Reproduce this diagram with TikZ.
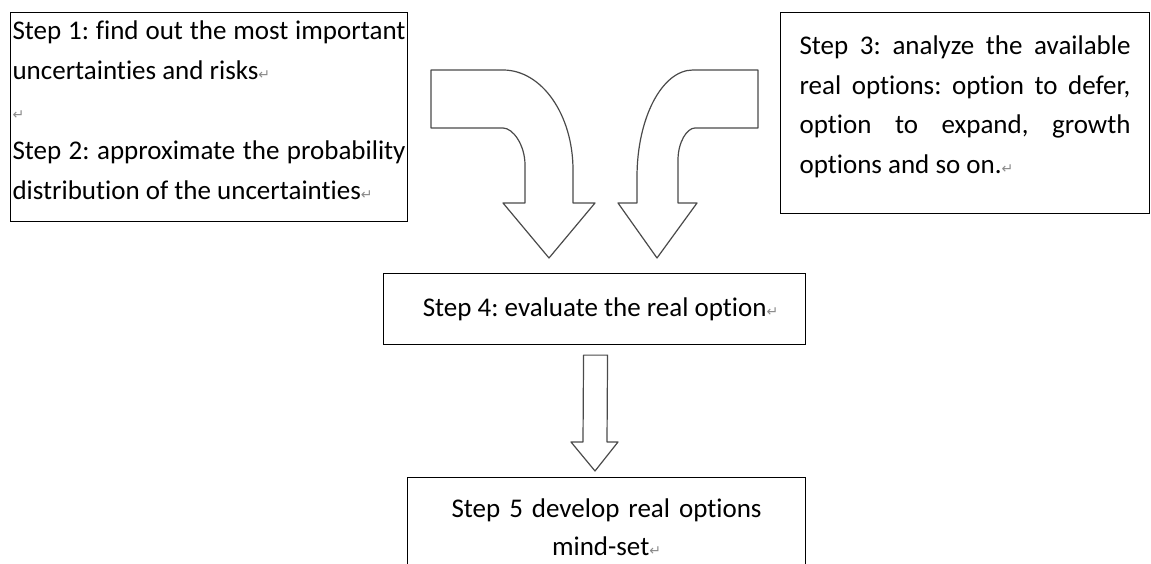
\documentclass[tikz,border=0pt]{standalone}
\usepackage{fontspec}
\setmainfont{Carlito}[Ligatures=NoCommon]
\newfontfamily\markfont{DejaVu Sans}
\usetikzlibrary{calc}
\definecolor{arrowgray}{HTML}{4A4A4A}
\definecolor{markgray}{HTML}{8A8A8A}
\newcommand{\parmark}{{\markfont\fontsize{14}{14}\selectfont\color{markgray}↵}}
\tikzset{
  stepbox/.style={draw=black, line width=1.1pt, inner ysep=0pt, font=\fontsize{27}{40}\selectfont},
  blockarrow/.style={draw=arrowgray, line width=1.2pt, fill=white, line join=round}
}
\frenchspacing

\begin{document}
\begin{tikzpicture}[x=1pt, y=-1pt]
\useasboundingbox (0,0) rectangle (1151,564);
\clip (0,0) rectangle (1151,564);

\node[stepbox, anchor=north west, inner xsep=2pt, text width=393pt, text height=27pt, text depth=182pt, align=justify] (step12) at (10,12) {Step 1: find out the most important\break uncertainties and risks\parmark\\ \parmark\\ Step 2: approximate the probability\break distribution of the uncertainties\parmark};
\node[stepbox, anchor=north west, inner xsep=19pt, text width=331pt, text height=42pt, text depth=159pt, align=justify, font=\fontsize{27}{39.5}\selectfont] (step3) at (780,12) {Step 3: analyze the available\break real options: option to defer,\break option to expand, growth\break options and so on.\parmark};
\node[stepbox, anchor=north west, minimum width=422pt, minimum height=71pt, inner xsep=0pt] (step4) at (383,273) {\hspace*{12pt}Step 4: evaluate the real option\parmark};
\node[stepbox, anchor=north west, inner xsep=10pt, text width=378pt, text height=40pt, text depth=120pt, align=center, font=\fontsize{27}{38}\selectfont] (step5) at (407,477) {Step 5 develop real options\\ mind-set\parmark};

\coordinate (tipL) at (549,258);
\coordinate (tipR) at (657,258);
\coordinate (tipD) at (595,471);

\draw[blockarrow] (431,70) -- (503,70) .. controls (542,70) and (573,115) .. (573,170) -- (573,203) -- (595,203) -- (tipL) -- (503,203) -- (525,203) -- (525,165) .. controls (525,145) and (513,128) .. (503,128) -- (431,128) -- cycle;
\draw[blockarrow] (758,70) -- (693,70) .. controls (662,70) and (637,118) .. (637,177) -- (637,203) -- (618,203) -- (tipR) -- (697,203) -- (678,203) -- (678,160) .. controls (678,142) and (687,128) .. (695,128) -- (758,128) -- cycle;
\draw[blockarrow] ($(step4.south)+(-11,10)$) -- ($(step4.south)+(13,10)$) -- (607,442) -- (618,442) -- (tipD) -- (571,442) -- (583,442) -- cycle;
\end{tikzpicture}
\end{document}
